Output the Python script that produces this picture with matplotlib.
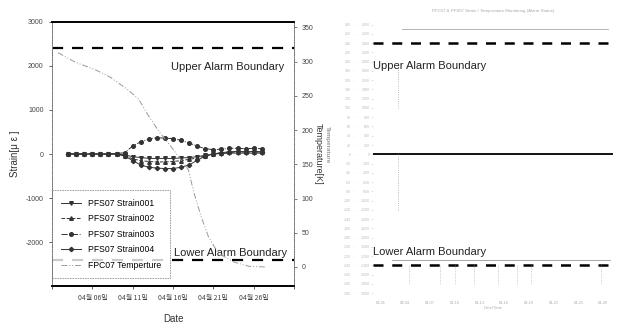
import matplotlib
matplotlib.use("Agg")
import matplotlib.pyplot as plt
import numpy as np

plt.rcParams['font.family'] = ['Liberation Sans', 'Noto Sans CJK KR', 'DejaVu Sans']

# ---- left panel data (day of April) ----
strain_days = [3, 4, 5, 6, 7, 8, 9, 10, 11, 12, 13, 14, 15, 16, 17, 18, 19,
               20, 21, 22, 23, 24, 25, 26, 27]
strain001 = [0, 0, 0, 0, 0, 0, 0, -20, -60, -80, -100, -100, -100, -100, -90,
             -80, -60, -30, 0, 10, 20, 20, 20, 20, 20]
strain002 = [0, 0, 0, 0, 0, 0, 0, -40, -110, -150, -170, -180, -180, -170,
             -150, -120, -90, -40, 0, 30, 40, 40, 50, 40, 50]
strain003 = [0, 0, 0, 10, 0, 0, 10, 30, 180, 280, 340, 370, 360, 350, 310,
             250, 180, 120, 100, 110, 130, 130, 120, 130, 120]
strain004 = [0, 0, 0, 0, 0, 0, 0, -40, -150, -250, -300, -320, -330, -330,
             -300, -250, -140, -50, 0, 30, 50, 60, 50, 60, 50]
temp_days = [1.75, 3.9, 6.4, 8.25, 10.4, 11.75, 12.9, 14.25, 15.75, 17.9,
             18.6, 19.5, 20.4, 21.6, 23.6, 25.4, 27.4]
temperature = [313, 299, 288, 277, 259, 245, 222, 198, 176, 142, 108, 73, 44,
               20, 7, 1, 0]
date_labels = ['04월 06일', '04월 11일', '04월 16일', '04월 21일', '04월 26일']
upper_alarm = 2400
lower_alarm = -2400

# ---- right panel data (screen capture) ----
cap_x = np.arange(0, 101)
cap_top = [2700] * 87
cap_low = [-2280] * 92
cap_ticks = [-3000 + 200 * i for i in range(30)]
cap_xlabels = ['04-01', '04-04', '04-07', '04-10', '04-13', '04-16',
               '04-19', '04-22', '04-25', '04-28']
cap_spikes = [15, 28, 34, 42, 52, 60, 66, 95]

fig = plt.figure(figsize=(6.19, 3.27), dpi=100)

# ================= left panel =================
ax = fig.add_axes([0.084, 0.125, 0.391, 0.808])
ax.set_xlim(1, 31)
ax.set_ylim(-3000, 3000)
ax.axhline(upper_alarm, color='black', lw=1.6, ls=(0, (5, 4)))
ax.axhline(lower_alarm, color='black', lw=1.6, ls=(0, (5, 4)))

kw = dict(color='#333333', lw=0.7, ms=2.6)
ax.plot(strain_days, strain001, marker='v', ls='-', label='PFS07 Strain001', **kw)
ax.plot(strain_days, strain002, marker='^', ls='--', label='PFS07 Strain002', **kw)
ax.plot(strain_days, strain003, marker='o', ls='-.', label='PFS07 Strain003', **kw)
ax.plot(strain_days, strain004, marker='D', ls='-', label='PFS07 Strain004',
        color='#333333', lw=0.7, ms=2.2)

ax2 = ax.twinx()
ax2.set_ylim(-28, 358)
tline, = ax2.plot(temp_days, temperature, color='#999999', lw=0.7,
                  ls=(0, (6, 2, 1, 2, 1, 2)), label='FPC07 Temperture')

ax.text(0.96, 0.83, 'Upper Alarm Boundary', transform=ax.transAxes,
        ha='right', va='center', fontsize=8, color='#222222')
ax.text(0.97, 0.125, 'Lower Alarm Boundary', transform=ax.transAxes,
        ha='right', va='center', fontsize=8, color='#222222')

h1, l1 = ax.get_legend_handles_labels()
leg = ax.legend(h1 + [tline], l1 + ['FPC07 Temperture'], loc='lower left',
                bbox_to_anchor=(0.0, 0.03), borderaxespad=0, fontsize=6.2,
                frameon=True, fancybox=False, edgecolor='#777777',
                handlelength=2.4, labelspacing=0.75, borderpad=1.0)
leg.get_frame().set_linewidth(0.6)
leg.get_frame().set_linestyle((0, (2, 1)))

ax.set_xticks([1, 6, 11, 16, 21, 26, 31])
ax.set_xticklabels([''] + date_labels + [''], fontsize=5, color='#444444',
                   family=['Noto Sans CJK KR', 'DejaVu Sans'])
ax.set_yticks([-2000, -1000, 0, 1000, 2000, 3000])
ax.set_yticklabels(['-2000', '-1000', '0', '1000', '2000', '3000'],
                   fontsize=5, color='#444444')
ax2.set_yticks([0, 50, 100, 150, 200, 250, 300, 350])
ax2.tick_params(labelsize=5, labelcolor='#444444', length=2, width=0.6,
                color='#666666')
ax.tick_params(length=2.5, width=0.6, color='#444444')
ax.set_xlabel('Date', fontsize=7, color='#333333', labelpad=8)
ax.set_ylabel('Strain[μ ε ]', fontsize=7, color='#333333', labelpad=4)
ax2.set_ylabel('Temperature[K]', fontsize=6.5, color='#333333', rotation=270,
               va='center')
ax2.yaxis.set_label_coords(1.1, 0.5)
for a in (ax, ax2):
    a.spines['top'].set_linewidth(1.2)
    a.spines['bottom'].set_linewidth(1.2)
    for s in ('left', 'right'):
        a.spines[s].set_linestyle((0, (1, 1.5)))
        a.spines[s].set_color('#777777')
        a.spines[s].set_linewidth(0.7)

# ================= right panel =================
bx = fig.add_axes([0.603, 0.089, 0.387, 0.85])
bx.set_xlim(0, 100)
bx.set_ylim(-3100, 2900)
for s in bx.spines.values():
    s.set_visible(False)
bx.plot(cap_x[12:99], cap_top, color='#aaaaaa', lw=0.6)
bx.plot(cap_x[8:100], cap_low, color='#999999', lw=0.6)
bx.axhline(upper_alarm, color='black', lw=1.8, ls=(0, (4, 3.5)))
bx.axhline(lower_alarm, color='black', lw=1.8, ls=(0, (4, 3.5)))
bx.axhline(0, color='#111111', lw=1.4)
bx.vlines([10.5], [1000], [2000], color='#aaaaaa', lw=0.6, ls=':')
bx.vlines([10.5], [-1200], [0], color='#aaaaaa', lw=0.6, ls=':')
bx.vlines([100], [-2900], [2100], color='#aaaaaa', lw=0.6, ls=':')
bx.vlines(cap_spikes, [-2400] * len(cap_spikes), [-2800] * len(cap_spikes),
          color='#aaaaaa', lw=0.5, ls=':')
bx.text(0.0, 0.835, 'Upper Alarm Boundary', transform=bx.transAxes,
        fontsize=8, color='#222222', va='center')
bx.text(0.0, 0.165, 'Lower Alarm Boundary', transform=bx.transAxes,
        fontsize=8, color='#222222', va='center')

bx.set_yticks(cap_ticks)
bx.set_yticklabels([str(v) for v in cap_ticks], fontsize=2.5, color='#bbbbbb')
bx.tick_params(axis='y', length=1.5, width=0.4, color='#cccccc', pad=1)
bx.set_xticks(np.linspace(3, 96, 10))
bx.set_xticklabels(cap_xlabels, fontsize=2.8, color='#aaaaaa')
bx.tick_params(axis='x', length=0, pad=2)
bx.set_xlabel('Date/Time', fontsize=3, color='#aaaaaa', labelpad=1)
bx.set_title('PFC07 & PFS07 Strain / Temperature Monitoring (Alarm Status)',
             fontsize=3.2, color='#aaaaaa', pad=6)

bx2 = bx.twinx()
bx2.set_ylim(-3100, 2900)
bx2.spines['left'].set_position(('outward', 14))
bx2.yaxis.set_ticks_position('left')
bx2.yaxis.set_label_position('left')
for s in ('top', 'right', 'bottom', 'left'):
    bx2.spines[s].set_visible(False)
bx2.set_yticks(cap_ticks)
bx2.set_yticklabels([str(v // 10) for v in cap_ticks], fontsize=2.5,
                    color='#bbbbbb')
bx2.tick_params(axis='y', length=1, width=0.4, color='#dddddd', pad=1)
bx2.set_ylabel('Temperature', fontsize=4.5, color='#999999', rotation=270,
               fontweight='bold', va='center')
bx2.yaxis.set_label_coords(-0.19, 0.55)

fig.savefig('out.png', dpi=100)
